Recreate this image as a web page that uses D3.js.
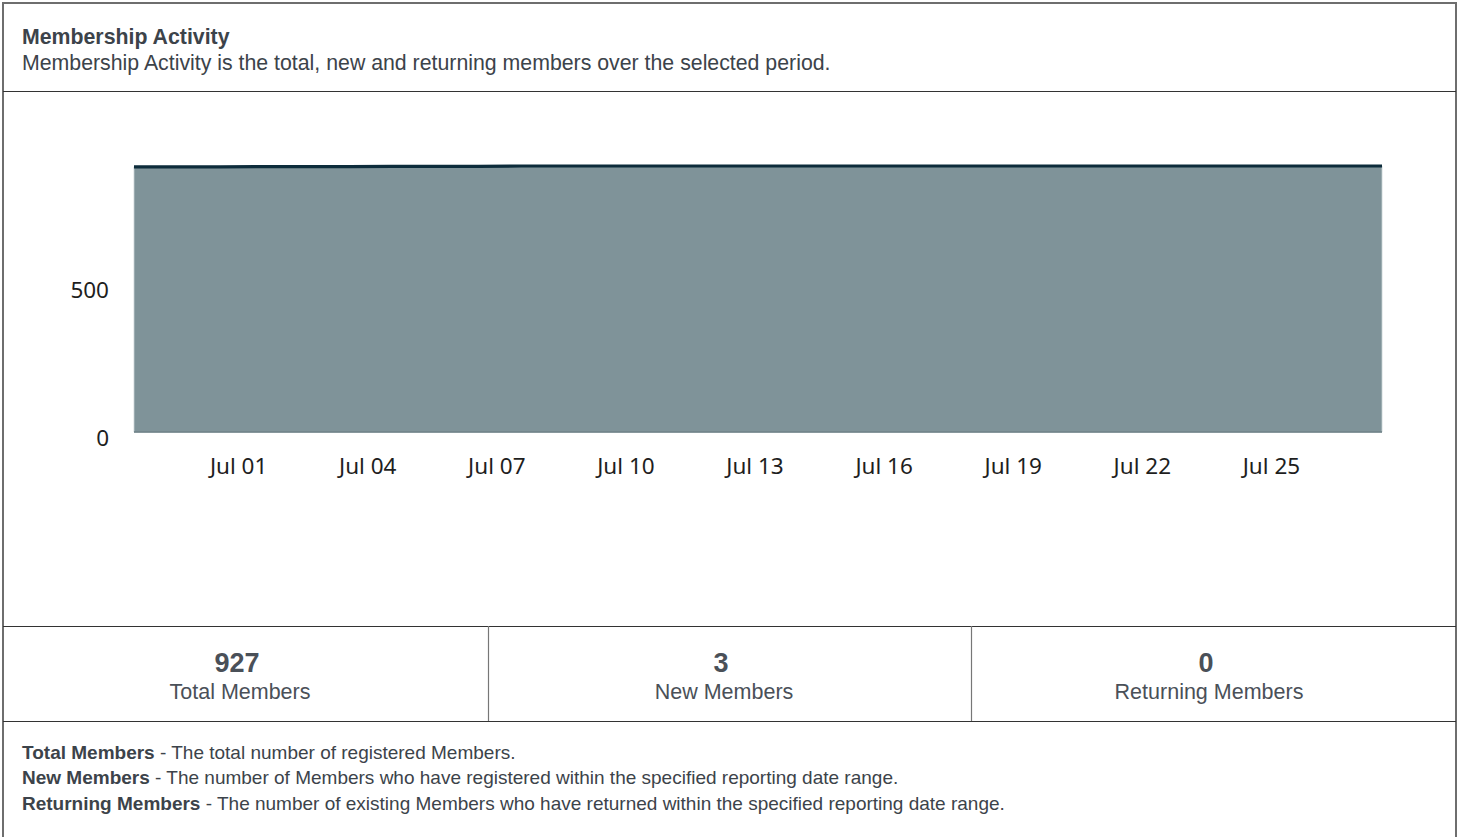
<!DOCTYPE html>
<html>
<head>
<meta charset="utf-8">
<script src="https://cdn.jsdelivr.net/npm/d3@7"></script>
<style>
  body { margin: 0; background: #fff; }
  svg { display: block; }
</style>
</head>
<body>
<svg id="chart" width="1464" height="837"></svg>
<script>
"use strict";

// daily totals over the period
var dates = ["2023-06-28", "2023-06-29", "2023-06-30", "2023-07-01", "2023-07-02",
  "2023-07-03", "2023-07-04", "2023-07-05", "2023-07-06", "2023-07-07",
  "2023-07-08", "2023-07-09", "2023-07-10", "2023-07-11", "2023-07-12",
  "2023-07-13", "2023-07-14", "2023-07-15", "2023-07-16", "2023-07-17",
  "2023-07-18", "2023-07-19", "2023-07-20", "2023-07-21", "2023-07-22",
  "2023-07-23", "2023-07-24", "2023-07-25", "2023-07-26", "2023-07-27"];
var totals = [924, 924, 924, 925, 925, 925, 926, 926, 926, 927,
  927, 927, 927, 927, 927, 927, 927, 927, 927, 927,
  927, 927, 927, 927, 927, 927, 927, 927, 927, 927];
var xTickDates = ["2023-07-01", "2023-07-04", "2023-07-07", "2023-07-10", "2023-07-13",
  "2023-07-16", "2023-07-19", "2023-07-22", "2023-07-25"];
var yTicks = [0, 500];

var statValues = ["927", "3", "0"];
var statLabels = ["Total Members", "New Members", "Returning Members"];

var notesBold = ["Total Members", "New Members", "Returning Members"];
var notesText = [
  " - The total number of registered Members.",
  " - The number of Members who have registered within the specified reporting date range.",
  " - The number of existing Members who have returned within the specified reporting date range."
];

var parse = d3.timeParse("%Y-%m-%d");
var data = dates.map(function(d, i) { return { date: parse(d), total: totals[i] }; });

var svg = d3.select("#chart");
var textColor = "#3c434a";
var sans = "'Liberation Sans', Arial, sans-serif";

// frame
var frameLeft = 3, frameRight = 1456, frameTop = 3;
svg.append("rect")
  .attr("x", frameLeft).attr("y", frameTop)
  .attr("width", frameRight - frameLeft).attr("height", 850)
  .attr("fill", "none").attr("stroke", "#6e6e6e").attr("stroke-width", 2);

[91, 626, 721].forEach(function(yy) {
  svg.append("line")
    .attr("x1", frameLeft).attr("x2", frameRight).attr("y1", yy + 0.5).attr("y2", yy + 0.5)
    .attr("stroke", "#333").attr("stroke-width", 1.2);
});
[488, 971].forEach(function(xx) {
  svg.append("line")
    .attr("x1", xx + 0.5).attr("x2", xx + 0.5).attr("y1", 626).attr("y2", 721)
    .attr("stroke", "#777").attr("stroke-width", 1.2);
});

// header
svg.append("text")
  .attr("x", 22).attr("y", 43.5)
  .attr("font-family", sans).attr("font-weight", "bold").attr("font-size", 21.3)
  .attr("fill", textColor)
  .text("Membership Activity");
svg.append("text")
  .attr("x", 22).attr("y", 69.5)
  .attr("font-family", sans).attr("font-size", 21.3)
  .attr("fill", textColor)
  .text("Membership Activity is the total, new and returning members over the selected period.");

// chart
var x = d3.scaleTime()
  .domain(d3.extent(data, function(d) { return d.date; }))
  .range([134, 1382]);
var y = d3.scaleLinear()
  .domain([0, 927])
  .range([432, 166]);

var area = d3.area()
  .x(function(d) { return x(d.date); })
  .y0(y(0))
  .y1(function(d) { return y(d.total); });
var line = d3.line()
  .x(function(d) { return x(d.date); })
  .y(function(d) { return y(d.total); });

svg.append("path")
  .datum(data)
  .attr("d", area)
  .attr("fill", "#7f9399")
  .attr("stroke", "#c9d3d6")
  .attr("stroke-width", 0.8);

svg.append("line")
  .attr("x1", x.range()[0]).attr("x2", x.range()[1])
  .attr("y1", y(0)).attr("y2", y(0))
  .attr("stroke", "#667a80").attr("stroke-width", 1.5);

svg.append("path")
  .datum(data)
  .attr("d", line)
  .attr("fill", "none")
  .attr("stroke", "#0d2c3b")
  .attr("stroke-width", 3.2);

var axisFont = "'Noto Sans', 'Open Sans', sans-serif";

var xAxis = svg.append("g")
  .attr("transform", "translate(0,432)")
  .call(d3.axisBottom(x)
    .tickValues(xTickDates.map(parse))
    .tickFormat(d3.timeFormat("%b %d"))
    .tickSize(0)
    .tickPadding(26));
xAxis.select(".domain").remove();
xAxis.selectAll("text")
  .attr("dx", -25)
  .attr("font-family", axisFont).attr("font-size", 22.5)
  .attr("fill", "#1e1e1e");

var yAxis = svg.append("g")
  .attr("transform", "translate(109,0)")
  .call(d3.axisLeft(y).tickValues(yTicks).tickSize(0).tickPadding(0));
yAxis.select(".domain").remove();
yAxis.selectAll("text")
  .attr("dy", function(d) { return d === 0 ? "0.62em" : "0.42em"; })
  .attr("font-family", axisFont).attr("font-size", 22.5)
  .attr("fill", "#1e1e1e");

// stats row
var colCenters = [237, 721, 1206];
svg.selectAll(".stat-value").data(statValues)
  .enter().append("text")
  .attr("class", "stat-value")
  .attr("x", function(d, i) { return colCenters[i]; })
  .attr("y", 671.5)
  .attr("text-anchor", "middle")
  .attr("font-family", sans).attr("font-weight", "bold").attr("font-size", 27)
  .attr("fill", "#4a5058")
  .text(function(d) { return d; });
svg.selectAll(".stat-label").data(statLabels)
  .enter().append("text")
  .attr("class", "stat-label")
  .attr("x", function(d, i) { return colCenters[i] + 3; })
  .attr("y", 699)
  .attr("text-anchor", "middle")
  .attr("font-family", sans).attr("font-size", 21.5)
  .attr("fill", "#4a5058")
  .text(function(d) { return d; });

// notes
var notes = svg.selectAll(".note").data(notesBold)
  .enter().append("text")
  .attr("class", "note")
  .attr("x", 22)
  .attr("y", function(d, i) { return 758.5 + i * 25.5; })
  .attr("font-family", sans).attr("font-size", 19)
  .attr("fill", textColor);
notes.append("tspan").attr("font-weight", "bold").text(function(d) { return d; });
notes.append("tspan").text(function(d, i) { return notesText[i]; });
</script>
</body>
</html>
